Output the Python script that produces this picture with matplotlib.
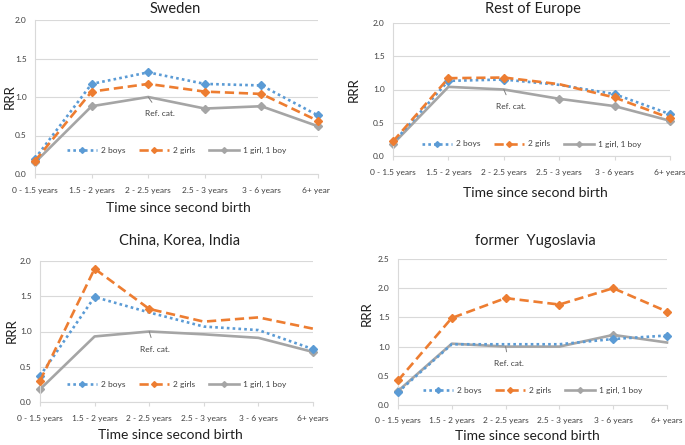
import matplotlib
matplotlib.use('Agg')
import matplotlib.pyplot as plt
from matplotlib.transforms import Bbox

plt.rcParams['font.family'] = ['Lato', 'DejaVu Sans']

W, H = 685, 445

periods = ['0 - 1.5 years', '1.5 - 2 years', '2 - 2.5 years', '2.5 - 3 years', '3 - 6 years', '6+ years']
series_names = ['2 boys', '2 girls', '1 girl, 1 boy']

# values, one list per series and panel
sweden_boys = [0.20, 1.17, 1.32, 1.17, 1.15, 0.76]
sweden_girls = [0.17, 1.07, 1.17, 1.07, 1.04, 0.69]
sweden_mixed = [0.15, 0.88, 1.00, 0.85, 0.88, 0.62]

europe_boys = [0.20, 1.13, 1.15, 1.07, 0.93, 0.63]
europe_girls = [0.22, 1.17, 1.18, 1.08, 0.88, 0.57]
europe_mixed = [0.18, 1.04, 1.00, 0.86, 0.75, 0.53]

asia_boys = [0.37, 1.49, 1.27, 1.07, 1.02, 0.75]
asia_girls = [0.30, 1.89, 1.32, 1.14, 1.20, 1.04]
asia_mixed = [0.18, 0.93, 1.00, 0.96, 0.91, 0.71]

yugo_boys = [0.22, 1.04, 1.04, 1.04, 1.13, 1.19]
yugo_girls = [0.42, 1.49, 1.83, 1.72, 2.00, 1.60]
yugo_mixed = [0.24, 1.05, 1.00, 1.00, 1.20, 1.07]

# which points carry a marker (significant estimates)
sweden_marks = [[0, 1, 2, 3, 4, 5], [0, 1, 2, 3, 4, 5], [0, 1, 3, 4, 5]]
europe_marks = [[1, 2, 4, 5], [0, 1, 2, 4, 5], [0, 3, 4, 5]]
asia_marks = [[0, 1, 5], [0, 1, 2], [0, 5]]
yugo_marks = [[0, 4, 5], [0, 1, 2, 3, 4, 5], [0, 4]]

colors = ['#5B9BD5', '#ED7D31', '#A5A5A5']
styles = [(0, (1, 1.2)), (0, (3.5, 1.8)), '-']
GRID = '#D9D9D9'


def px_axes(x0, y0, x1, y1):
    return fig.add_axes([x0 / W, 1 - y1 / H, (x1 - x0) / W, (y1 - y0) / H])


def panel(box, title, tpos, rpos, xlpos, data, marks, ymax, leg_y, ref_xy, clip_right=None):
    ax = px_axes(*box)
    x = list(range(len(periods)))
    handles = []
    for vals, mk, c, ls, name in zip(data, marks, colors, styles, series_names):
        h, = ax.plot(x, vals, color=c, linestyle=ls, lw=1.9, marker='D', ms=4.2,
                     markevery=mk, label=name, zorder=3 if c != '#A5A5A5' else 2,
                     clip_on=False)
        handles.append(h)
    ax.set_xlim(0, 5)
    ax.set_ylim(0, ymax)
    ticks = [i * 0.5 for i in range(int(ymax / 0.5) + 1)]
    ax.set_yticks(ticks)
    ax.set_yticklabels(['%.1f' % t for t in ticks], fontsize=6, color='#404040')
    ax.set_xticks(x)
    ax.set_xticklabels(periods, fontsize=6, color='#404040')
    ax.tick_params(axis='y', length=0, pad=6)
    ax.tick_params(axis='x', length=3, color=GRID, pad=6)
    ax.grid(axis='y', color=GRID, lw=0.8)
    ax.set_axisbelow(True)
    for s in ['top', 'right']:
        ax.spines[s].set_visible(False)
    for s in ['left', 'bottom']:
        ax.spines[s].set_color(GRID)
        ax.spines[s].set_linewidth(0.8)
    if clip_right is not None:
        # the source panel was cropped, cutting off the last tick label
        box_px = Bbox.from_extents(0, 0, clip_right, H)
        for lab in ax.get_xticklabels():
            lab.set_clip_box(box_px)
            lab.set_clip_on(True)
    ax.annotate('Ref. cat.', xy=(2, 1.0), xytext=ref_xy, fontsize=6, color='#404040',
                ha='center', va='center',
                arrowprops=dict(arrowstyle='-', color='#808080', lw=0.7, shrinkA=4, shrinkB=0))
    ax.legend(handles=handles, loc='center', bbox_to_anchor=(0.5, leg_y), ncol=3,
              frameon=False, fontsize=6, handlelength=3.6, columnspacing=1.6,
              handletextpad=0.5, labelcolor='#404040', markerscale=0.7)
    fig.text(tpos[0] / W, 1 - tpos[1] / H, title, fontsize=10.5, ha='center', va='center',
             color='#202020')
    fig.text(rpos[0] / W, 1 - rpos[1] / H, 'RRR', fontsize=9.5, rotation=90,
             ha='center', va='center', color='#202020')
    fig.text(xlpos[0] / W, 1 - xlpos[1] / H, 'Time since second birth', fontsize=10,
             ha='center', va='center', color='#202020')
    return ax


fig = plt.figure(figsize=(W / 100, H / 100), dpi=100)

panel((35, 20, 318, 174), 'Sweden', (175, 9), (10, 97), (178, 208),
      [sweden_boys, sweden_girls, sweden_mixed], sweden_marks, 2.0, 0.15, (2.2, 0.79),
      clip_right=330)
panel((393, 23, 670, 156), 'Rest of Europe', (533, 9), (354, 90), (535, 193),
      [europe_boys, europe_girls, europe_mixed], europe_marks, 2.0, 0.09, (2.13, 0.75))
panel((40, 261, 313, 402), 'China, Korea, India', (180, 241), (12, 331), (170, 435),
      [asia_boys, asia_girls, asia_mixed], asia_marks, 2.0, 0.125, (2.1, 0.75))
panel((398, 259, 667, 405), 'former  Yugoslavia', (535, 241), (367, 314), (527, 436),
      [yugo_boys, yugo_girls, yugo_mixed], yugo_marks, 2.5, 0.10, (2.06, 0.71))

fig.savefig('out.png', dpi=100)
